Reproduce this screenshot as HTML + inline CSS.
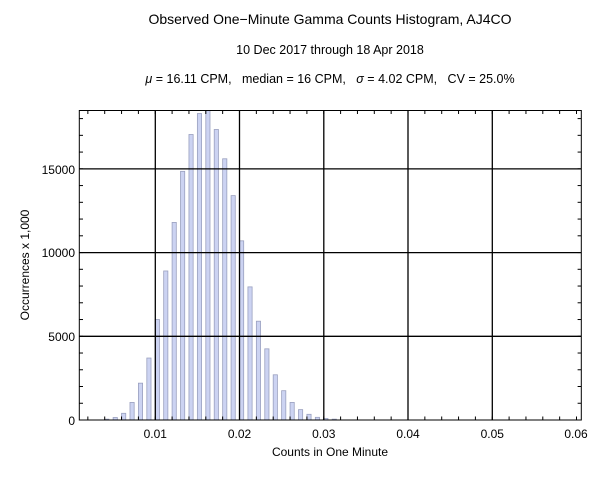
<!DOCTYPE html>
<html><head><meta charset="utf-8"><style>
html,body{margin:0;padding:0;background:#fff}
svg{display:block}
text{font-family:"Liberation Sans",sans-serif;fill:#000;white-space:pre}
</style></head><body>
<svg width="600" height="479" viewBox="0 0 600 479" xmlns="http://www.w3.org/2000/svg">
<rect width="600" height="479" fill="#fff"/>
<text x="330" y="24" font-size="14" text-anchor="middle">Observed One−Minute Gamma Counts Histogram, AJ4CO</text>
<text x="330" y="54" font-size="12.5" text-anchor="middle">10 Dec 2017 through 18 Apr 2018</text>
<text x="330" y="83" font-size="12.5" text-anchor="middle" xml:space="preserve"><tspan font-style="italic">μ</tspan> = 16.11 CPM,   median = 16 CPM,   <tspan font-style="italic">σ</tspan> = 4.02 CPM,   CV = 25.0%</text>
<g id="bars" fill="#ccd3f2" stroke="#9aa0bf" stroke-width="0.8"></g>
<g stroke="#000" stroke-width="1.3">
<line x1="155.3" y1="110.5" x2="155.3" y2="420"/>
<line x1="239.5" y1="110.5" x2="239.5" y2="420"/>
<line x1="323.8" y1="110.5" x2="323.8" y2="420"/>
<line x1="408" y1="110.5" x2="408" y2="420"/>
<line x1="492.3" y1="110.5" x2="492.3" y2="420"/>
<line x1="79.3" y1="336.3" x2="581.3" y2="336.3"/>
<line x1="79.3" y1="252.6" x2="581.3" y2="252.6"/>
<line x1="79.3" y1="168.9" x2="581.3" y2="168.9"/>
</g>
<g id="ticks" stroke="#000" stroke-width="1"></g>
<rect x="79.3" y="110.5" width="502" height="309.5" fill="none" stroke="#000" stroke-width="1"/>
<g font-size="12" text-anchor="middle">
<text x="155.3" y="438">0.01</text>
<text x="239.5" y="438">0.02</text>
<text x="323.8" y="438">0.03</text>
<text x="408" y="438">0.04</text>
<text x="492.3" y="438">0.05</text>
<text x="576" y="438">0.06</text>
</g>
<g font-size="12" text-anchor="end">
<text x="75" y="425">0</text>
<text x="75" y="341">5000</text>
<text x="75" y="257">10000</text>
<text x="75" y="174">15000</text>
</g>
<text x="330" y="456" font-size="12" text-anchor="middle">Counts in One Minute</text>
<text transform="translate(29,265) rotate(-90)" font-size="12" text-anchor="middle">Occurrences x 1,000</text>
</svg>
<script>
(function(){
var vals={4:50,5:150,6:400,7:1050,8:2200,9:3700,10:6000,11:8900,12:11800,13:14850,14:17050,15:18300,16:18700,17:17350,18:15600,19:13400,20:10700,21:7950,22:5900,23:4250,24:2700,25:1750,26:1050,27:620,28:340,29:160,30:90,31:50};
var g=document.getElementById('bars'),ns="http://www.w3.org/2000/svg";
function X(v){return 71+v*8425;}
function Y(v){return 420-v*0.016745;}
for(var k in vals){var h=vals[k];var yy=Math.max(Y(h),110.5);var r=document.createElementNS(ns,'rect');
r.setAttribute('x',X(Number(k)/1000));r.setAttribute('y',yy);r.setAttribute('width',4.2);r.setAttribute('height',420-yy);g.appendChild(r);}
var t=document.getElementById('ticks');
function L(a,b,c,d){var l=document.createElementNS(ns,'line');l.setAttribute('x1',a);l.setAttribute('y1',b);l.setAttribute('x2',c);l.setAttribute('y2',d);t.appendChild(l);}
for(var i=2;i<=60;i+=2){var x=X(i/1000);if(x<80||x>581)continue;L(x,420,x,416.5);L(x,110.5,x,114);}
for(var j=0;j<=18000;j+=1000){var y=Y(j);L(79.3,y,83,y);L(581.3,y,577.6,y);}
})();
</script>
</body></html>
